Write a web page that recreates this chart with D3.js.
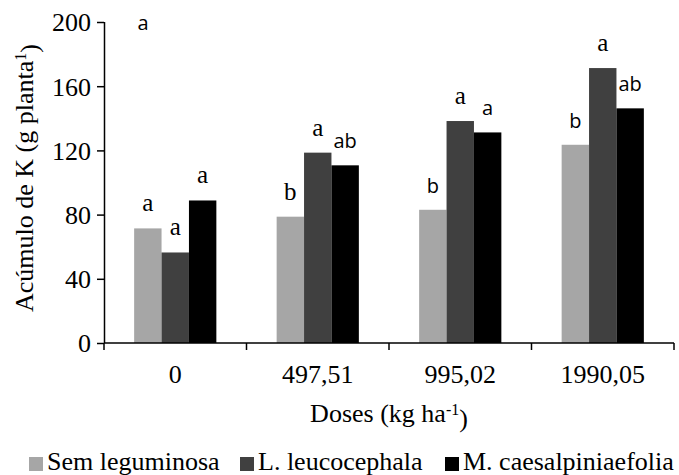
<!DOCTYPE html>
<html>
<head>
<meta charset="utf-8">
<script src="https://cdn.jsdelivr.net/npm/d3@7"></script>
<style>
  body { margin: 0; background: #fff; }
</style>
</head>
<body>
<div id="chart"></div>
<script>
// doses on the x axis
const doses = ['0', '497,51', '995,02', '1990,05'];
const series = ['Sem leguminosa', 'L. leucocephala', 'M. caesalpiniaefolia'];
const colors = ['#a6a6a6', '#404040', '#000000'];

// K accumulation per dose, one array per series
const semLeg = [71.4, 78.7, 83.0, 123.5];
const leucocephala = [56.4, 118.6, 138.3, 171.3];
const caesalpiniaefolia = [88.8, 110.7, 131.2, 146.2];

// letters of the mean test, per dose: [sem, leuco, caesalp]
const letters = [
  ['a', 'a', 'a'],
  ['b', 'a', 'ab'],
  ['b', 'a', 'a'],
  ['b', 'a', 'ab']
];
// which letters were typeset in the sans font (dose index, series index)
const sansLetters = ['1-2', '2-0', '2-2', '3-0', '3-2'];

const yTicks = [0, 40, 80, 120, 160, 200];

const serif = "'Liberation Serif', 'DejaVu Serif', serif";
const sans = "'Open Sans', 'Noto Sans', sans-serif";

const width = 679;
const height = 475;
const margin = { top: 22, right: 5, bottom: 132, left: 104 };

const values = [semLeg, leucocephala, caesalpiniaefolia];
const rows = doses.map((d, i) => ({
  dose: d,
  bars: series.map((s, j) => ({ dose: d, i, j, series: s, value: values[j][i], letter: letters[i][j] }))
}));

const svg = d3.select('#chart')
  .append('svg')
  .attr('width', width)
  .attr('height', height)
  .style('font-family', serif);

const x0 = d3.scaleBand()
  .domain(doses)
  .range([margin.left, width - margin.right])
  .padding(0);

const x1 = d3.scaleBand()
  .domain(series)
  .range([0, x0.bandwidth()])
  .paddingInner(0)
  .paddingOuter(1.1);

const y = d3.scaleLinear()
  .domain([0, 200])
  .range([height - margin.bottom, margin.top]);

const bottom = y(0);

// bars
const groups = svg.append('g')
  .selectAll('g')
  .data(rows)
  .join('g')
  .attr('transform', d => `translate(${x0(d.dose)},0)`);

groups.selectAll('rect')
  .data(d => d.bars)
  .join('rect')
  .attr('x', d => x1(d.series))
  .attr('y', d => y(d.value))
  .attr('width', x1.bandwidth())
  .attr('height', d => bottom - y(d.value))
  .attr('fill', d => colors[d.j]);

const isSans = d => sansLetters.includes(d.i + '-' + d.j);

groups.selectAll('text')
  .data(d => d.bars)
  .join('text')
  .attr('x', d => x1(d.series) + x1.bandwidth() / 2)
  .attr('y', d => y(d.value) - 17)
  .attr('text-anchor', 'middle')
  .style('font-family', d => isSans(d) ? sans : serif)
  .style('font-size', d => isSans(d) ? '20px' : '25px')
  .text(d => d.letter);

// stray letter near the top
svg.append('text')
  .attr('x', 143)
  .attr('y', 30)
  .attr('text-anchor', 'middle')
  .style('font-family', sans)
  .style('font-size', '20px')
  .text('a');

// y axis
const yAxis = svg.append('g')
  .attr('transform', `translate(${margin.left},0)`)
  .call(d3.axisLeft(y).tickValues(yTicks).tickSize(7).tickPadding(6));

yAxis.attr('font-family', null).attr('font-size', null);
yAxis.selectAll('text')
  .style('font-family', serif)
  .style('font-size', '26px')
  .attr('dy', '0.34em');

// x axis with ticks at the band edges
const xAxis = svg.append('g')
  .attr('transform', `translate(0,${bottom})`);

xAxis.append('line')
  .attr('x1', margin.left)
  .attr('x2', width - margin.right)
  .attr('stroke', '#000');

const edges = doses.map(d => x0(d)).concat([x0(doses[doses.length - 1]) + x0.bandwidth()]);
xAxis.selectAll('.edge')
  .data(edges)
  .join('line')
  .attr('class', 'edge')
  .attr('x1', d => d)
  .attr('x2', d => d)
  .attr('y1', 0)
  .attr('y2', 7)
  .attr('stroke', '#000');

xAxis.selectAll('.lbl')
  .data(doses)
  .join('text')
  .attr('class', 'lbl')
  .attr('x', d => x0(d) + x0.bandwidth() / 2)
  .attr('y', 40)
  .attr('text-anchor', 'middle')
  .style('font-family', serif)
  .style('font-size', '26px')
  .text(d => d);

svg.selectAll('.domain, .tick line').attr('stroke', '#000');
yAxis.select('.domain').attr('d', `M0.5,${y(200)}V${bottom}`);
svg.selectAll('line, .domain').attr('stroke-width', 1.5);

// axis titles
const yTitle = svg.append('text')
  .attr('transform', `translate(33,178) rotate(-90)`)
  .attr('text-anchor', 'middle')
  .style('font-family', serif)
  .style('font-size', '26px');
yTitle.append('tspan').text('Acúmulo de K (g planta');
yTitle.append('tspan').attr('dy', '-0.45em').style('font-size', '16px').text('1');
yTitle.append('tspan').attr('dy', '0.45em').text(')');

const xTitle = svg.append('text')
  .attr('x', (margin.left + width - margin.right) / 2)
  .attr('y', 422)
  .attr('text-anchor', 'middle')
  .style('font-family', serif)
  .style('font-size', '26px');
xTitle.append('tspan').text('Doses (kg ha');
xTitle.append('tspan').attr('dy', '-0.45em').style('font-size', '16px').text('-1');
xTitle.append('tspan').attr('dy', '0.45em').text(')');

// legend, item positions taken from the original layout
const legendX = [29, 240, 445];
const legend = svg.append('g').attr('transform', 'translate(0,470)');
series.forEach((s, j) => {
  legend.append('rect')
    .attr('x', legendX[j])
    .attr('y', -13)
    .attr('width', 14)
    .attr('height', 14)
    .attr('fill', colors[j]);
  legend.append('text')
    .attr('x', legendX[j] + 18)
    .attr('y', 0)
    .style('font-family', serif)
    .style('font-size', '26px')
    .text(s);
});
</script>
</body>
</html>
